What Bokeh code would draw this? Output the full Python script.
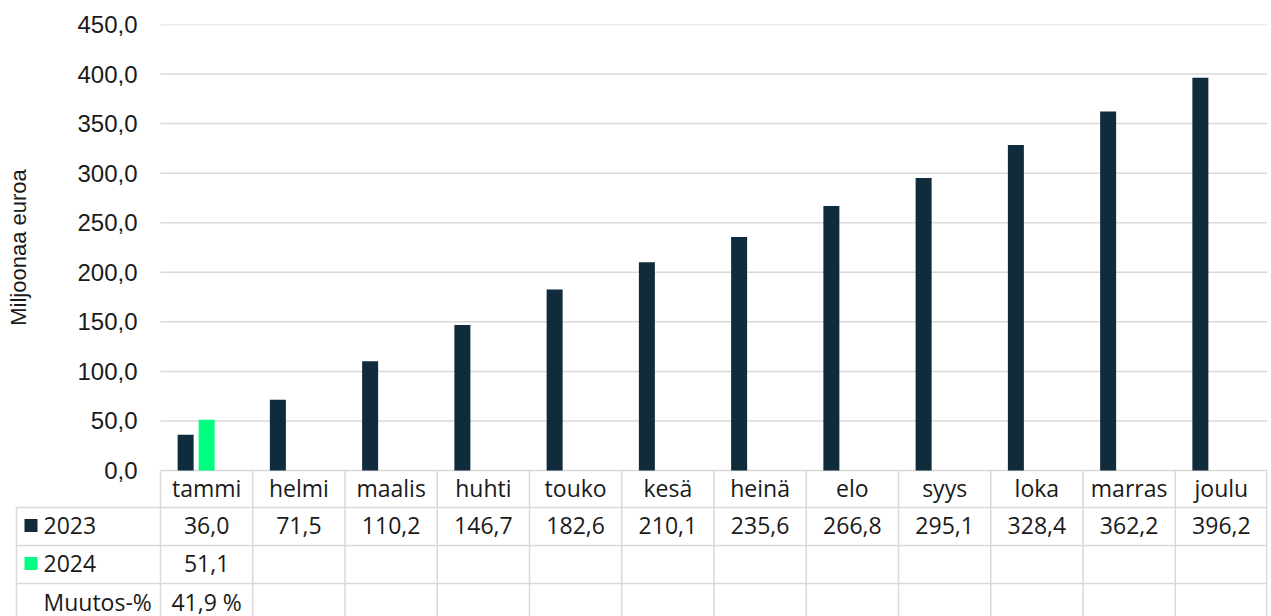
import math
from bokeh.plotting import figure
from bokeh.models import Range1d, FixedTicker, CustomJSTickFormatter, ColumnDataSource, Label
from bokeh.core.properties import value
from bokeh.embed import file_html
from bokeh.resources import INLINE

# ---------------- data ----------------
months = ["tammi", "helmi", "maalis", "huhti", "touko", "kesä", "heinä",
          "elo", "syys", "loka", "marras", "joulu"]
v2023 = [36.0, 71.5, 110.2, 146.7, 182.6, 210.1, 235.6, 266.8, 295.1, 328.4, 362.2, 396.2]
v2024 = [51.1]
muutos = ["41,9 %"]
series_names = ["2023", "2024", "Muutos-%"]
y_ticks = [0, 50, 100, 150, 200, 250, 300, 350, 400, 450]
y_max = 450
y_title = "Miljoonaa euroa"

# ---------------- style / layout ----------------
AX_FONT = "Liberation Sans"
TB_FONT = "Open Sans"
C2023 = "#0f2b3c"
C2024 = "#00ff80"
GRID = "#d9d9d9"
TXT = "#1a1a1a"
TB_FS = "23px"

W, H = 1271, 616
FL, FR, FT = 8, 4, 24            # frame borders (left, right, top)
PLOT_L = 160                     # left edge of the category columns (px)
TABLE_L = 16                     # left edge of the data table (px)
CHART_PX = 446                   # px from y_max down to 0
K = y_max / CHART_PX             # data units per px
COLW = (W - FR - PLOT_L) / 12.0
X_START = -(PLOT_L - FL) / COLW

def px_x(px):                    # page px -> data x
    return (px - PLOT_L) / COLW

def ty(px):                      # px below the zero line -> data y
    return -px * K

def fmt(v):
    return ("%.1f" % v).replace(".", ",")

y_start = ty(H - FT - CHART_PX)

p = figure(width=W, height=H, output_backend="svg", toolbar_location=None,
           x_range=Range1d(X_START, 12), y_range=Range1d(y_start, y_max),
           min_border_left=FL, min_border_right=FR, min_border_top=FT,
           min_border_bottom=0)
p.outline_line_color = None
p.xaxis.visible = False
p.grid.visible = False

# y axis: tick labels pulled in next to the category area
p.yaxis.ticker = FixedTicker(ticks=y_ticks)
p.yaxis.formatter = CustomJSTickFormatter(code="return tick.toFixed(1).replace('.', ',');")
p.yaxis.axis_line_color = None
p.yaxis.major_tick_line_color = None
p.yaxis.minor_tick_line_color = None
p.yaxis.major_tick_out = 0
p.yaxis.major_tick_in = 0
p.yaxis.minor_tick_out = 0
p.yaxis.major_label_standoff = -(PLOT_L - 23 - FL)
p.yaxis.major_label_text_font = AX_FONT
p.yaxis.major_label_text_font_size = "24px"
p.yaxis.major_label_text_color = TXT

# gridlines (only over the category area)
p.segment(x0=[0] * len(y_ticks), x1=[12] * len(y_ticks), y0=y_ticks, y1=y_ticks,
          line_color=GRID, line_width=1.5)

# axis title
p.add_layout(Label(x=px_x(18), y=y_max / 2, text=y_title, angle=math.pi / 2,
                   text_align="center", text_baseline="middle", text_font=AX_FONT,
                   text_font_size="22px", text_color=TXT))

# ---------------- bars ----------------
offset = 21.0 / COLW
bw = 16.0 / COLW
src23 = ColumnDataSource(dict(x=[i + 0.5 - offset for i in range(len(v2023))], top=v2023))
src24 = ColumnDataSource(dict(x=[i + 0.5 for i in range(len(v2024))], top=v2024))
p.vbar(x="x", top="top", width=bw, source=src23, fill_color=C2023, line_color=None)
p.vbar(x="x", top="top", width=bw, source=src24, fill_color=C2024, line_color=None)

# ---------------- data table ----------------
row_px = [0, 37, 75, 113]        # row top edges below the zero line (px)
bottom = y_start
xt = px_x(TABLE_L)
xs, ys = [], []
for r in row_px[1:]:
    xs.append([xt, 12]); ys.append([ty(r), ty(r)])
for i in range(13):
    xx = i if i < 12 else 12 - 0.8 / COLW
    xs.append([xx, xx]); ys.append([ty(0), bottom])
xs.append([xt, xt]); ys.append([ty(row_px[1]), bottom])
p.multi_line(xs=xs, ys=ys, line_color=GRID, line_width=1.5)

text_px = [17, 55, 93, 131]      # text centres below the zero line (px)
common = dict(text_baseline="middle", text_font=value(TB_FONT), text_font_size=TB_FS,
              text_color=TXT)
p.text(x=[i + 0.5 for i in range(len(months))], y=[ty(text_px[0])] * len(months),
       text=months, text_align="center", **common)
p.text(x=[i + 0.5 for i in range(len(v2023))], y=[ty(text_px[1])] * len(v2023),
       text=[fmt(v) for v in v2023], text_align="center", **common)
p.text(x=[i + 0.5 for i in range(len(v2024))], y=[ty(text_px[2])] * len(v2024),
       text=[fmt(v) for v in v2024], text_align="center", **common)
p.text(x=[i + 0.5 for i in range(len(muutos))], y=[ty(text_px[3])] * len(muutos),
       text=muutos, text_align="center", **common)

# row labels + legend keys
p.text(x=[px_x(43)] * len(series_names), y=[ty(t) for t in text_px[1:]], text=series_names,
       text_align="left", **common)
p.scatter(x=[px_x(30.5)] * 2, y=[ty(t) for t in text_px[1:3]], marker="square", size=13,
          fill_color=[C2023, C2024], line_color=None)

open("out.html", "w").write(file_html(p, INLINE))
